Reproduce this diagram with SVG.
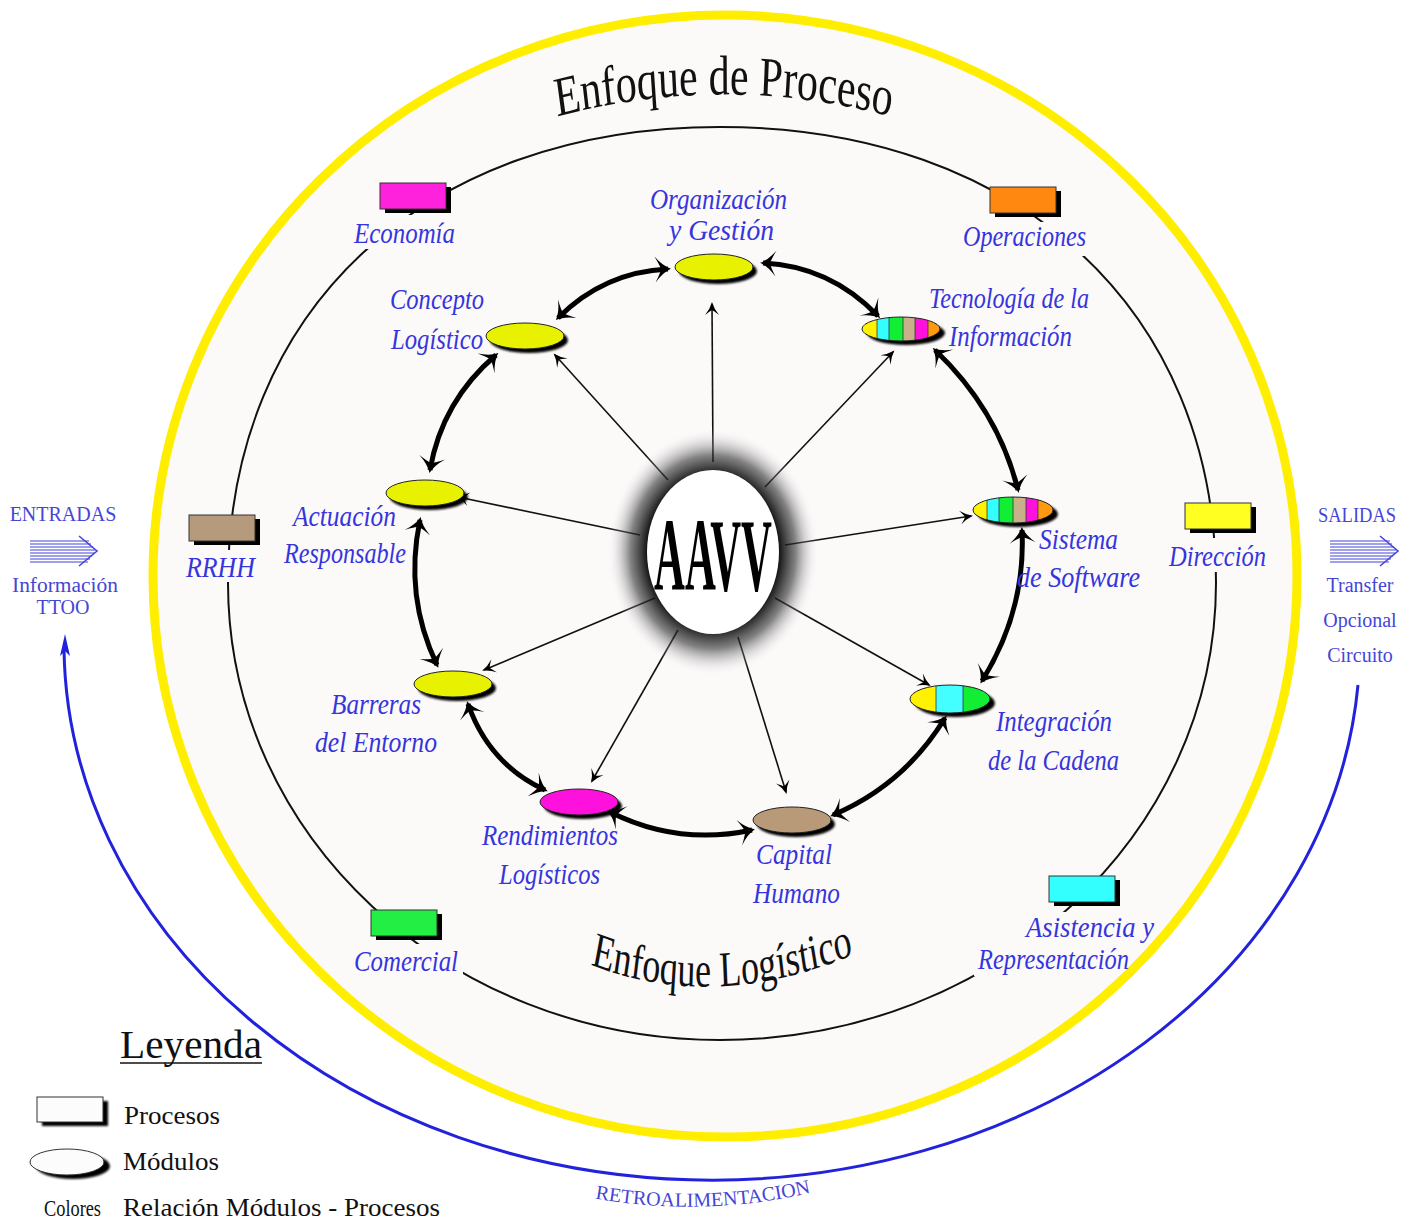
<svg xmlns="http://www.w3.org/2000/svg" width="1413" height="1222" viewBox="0 0 1413 1222">
<defs>
<style>
.lbl{font-family:'Liberation Serif','DejaVu Serif',serif;font-style:italic;font-size:30px;fill:#3535dd}
.blu{font-family:'Liberation Serif','DejaVu Serif',serif;font-size:20px;fill:#4545d8;text-anchor:middle}
.ttl{font-family:'Liberation Serif','DejaVu Serif',serif;fill:#111}
.leg{font-family:'Liberation Serif','DejaVu Serif',serif;fill:#111}
.pbox{stroke:#333;stroke-width:1}
.psh{fill:#000}
.mod{stroke:#222;stroke-width:1}
.msh{fill:#000;filter:url(#blur)}
.lbg{fill:#fcf9f9}
.spoke{fill:none;stroke:#111;stroke-width:1.6;marker-end:url(#thin)}
.ring{fill:none;stroke:#000;stroke-width:5;marker-start:url(#thick);marker-end:url(#thick)}
.sep{stroke:#333;stroke-width:0.8}
</style>
<filter id="blur" x="-20%" y="-40%" width="140%" height="180%"><feGaussianBlur stdDeviation="1.3"/></filter>
<radialGradient id="glow" cx="0.5" cy="0.5" r="0.5">
<stop offset="0.6" stop-color="#000" stop-opacity="1"/>
<stop offset="0.78" stop-color="#333" stop-opacity="0.6"/>
<stop offset="1" stop-color="#fff" stop-opacity="0"/>
</radialGradient>
<marker id="thick" markerUnits="userSpaceOnUse" viewBox="-16 -14 20 28" markerWidth="20" markerHeight="28" refX="0" refY="0" orient="auto-start-reverse">
<path d="M3,0 Q-5,-3 -13,-13 Q-8,-4 -7,0 Q-8,4 -13,13 Q-5,3 3,0Z" fill="#000"/>
</marker>
<marker id="thin" markerUnits="userSpaceOnUse" viewBox="-14 -8 18 16" markerWidth="18" markerHeight="16" refX="0" refY="0" orient="auto">
<path d="M2,0 Q-5,-2 -11,-7 Q-7,-2 -6,0 Q-7,2 -11,7 Q-5,2 2,0Z" fill="#000"/>
</marker>
<clipPath id="clipT"><ellipse cx="901" cy="329" rx="39" ry="12"/></clipPath>
<clipPath id="clipS"><ellipse cx="1013" cy="510" rx="40" ry="13"/></clipPath>
<clipPath id="clipI"><ellipse cx="950" cy="699" rx="40" ry="14"/></clipPath>
<path id="tpTop" d="M-236,119 Q0,70 233,119"/>
<path id="tpBot" d="M-188,962 Q-11,1016 194,952"/>
<path id="tpRet" d="M592,1198 Q703,1218 814,1192"/>
</defs>

<rect width="1413" height="1222" fill="#fff"/>

<g id="frame">
<ellipse cx="725" cy="576" rx="572" ry="561" fill="#fcf9f9" stroke="#ffee00" stroke-width="9"/>
<path d="M1358,685 A648,537 0 0 1 64,648" fill="none" stroke="#2222dd" stroke-width="3"/>
<polygon points="65,634 60,656 65,651 70,656" fill="#2222dd"/>
<path d="M720,127 C1017.6,127 1216,309.4 1216,583 C1216,835.4 994,1040 720,1040 C448,1040 228,835.4 228,583 C228,309.4 424.8,127 720,127 Z" fill="none" stroke="#111" stroke-width="2"/>
</g>

<g id="titles">
<g transform="translate(725,0) scale(0.75,1)"><text class="ttl" font-size="56" text-anchor="middle"><textPath href="#tpTop" startOffset="50%">Enfoque de  Proceso</textPath></text></g>
<g transform="translate(720,0) scale(0.72,1)"><text class="ttl" font-size="50" text-anchor="middle"><textPath href="#tpBot" startOffset="50%">Enfoque  Logístico</textPath></text></g>
<text class="blu" font-size="20"><textPath href="#tpRet" startOffset="50%">RETROALIMENTACION</textPath></text>
</g>

<g id="io">
<g id="entradas">
<text class="blu" x="63" y="521">ENTRADAS</text>
<g stroke="#4545d8" stroke-width="1.2">
<line x1="30" y1="541" x2="89" y2="541"/><line x1="30" y1="544" x2="91" y2="544"/><line x1="30" y1="547" x2="93" y2="547"/><line x1="30" y1="550" x2="95" y2="550"/><line x1="30" y1="553" x2="94" y2="553"/><line x1="30" y1="556" x2="92" y2="556"/><line x1="30" y1="559" x2="90" y2="559"/><line x1="30" y1="562" x2="88" y2="562"/>
<polyline points="79,536 97,551 79,566" fill="none" stroke-width="1.6"/>
</g>
<text class="blu" x="65" y="592" textLength="106" lengthAdjust="spacingAndGlyphs">Información</text>
<text class="blu" x="63" y="614">TTOO</text>
</g>
<g id="salidas">
<text class="blu" x="1357" y="522" textLength="78" lengthAdjust="spacingAndGlyphs">SALIDAS</text>
<g stroke="#4545d8" stroke-width="1.2">
<line x1="1330" y1="541" x2="1390" y2="541"/><line x1="1330" y1="544" x2="1392" y2="544"/><line x1="1330" y1="547" x2="1394" y2="547"/><line x1="1330" y1="550" x2="1396" y2="550"/><line x1="1330" y1="553" x2="1395" y2="553"/><line x1="1330" y1="556" x2="1393" y2="556"/><line x1="1330" y1="559" x2="1391" y2="559"/><line x1="1330" y1="562" x2="1389" y2="562"/>
<polyline points="1380,536 1398,551 1380,566" fill="none" stroke-width="1.6"/>
</g>
<text class="blu" x="1360" y="592">Transfer</text>
<text class="blu" x="1360" y="627">Opcional</text>
<text class="blu" x="1360" y="662">Circuito</text>
</g>
</g>

<g id="connectors">
<path class="spoke" d="M713,462 L712,304"/>
<path class="spoke" d="M765,487 L893,352"/>
<path class="spoke" d="M785,545 L971,516"/>
<path class="spoke" d="M775,598 L929,685"/>
<path class="spoke" d="M738,637 L786,792"/>
<path class="spoke" d="M678,630 L592,781"/>
<path class="spoke" d="M655,598 L484,670"/>
<path class="spoke" d="M640,535 L458,497"/>
<path class="spoke" d="M668,480 L555,355"/>
<path class="ring" d="M558,318 Q604,272 668,269"/>
<path class="ring" d="M763,263 Q830,266 878,316"/>
<path class="ring" d="M935,350 Q998,410 1018,490"/>
<path class="ring" d="M1022,530 Q1026,610 982,681"/>
<path class="ring" d="M945,718 Q904,785 833,815"/>
<path class="ring" d="M752,830 Q678,846 610,812"/>
<path class="ring" d="M545,790 Q489,764 468,704"/>
<path class="ring" d="M437,665 Q404,596 420,520"/>
<path class="ring" d="M430,470 Q442,401 496,355"/>
</g>

<g id="center-aavv">
<ellipse cx="713" cy="552" rx="106" ry="124" fill="url(#glow)"/>
<ellipse cx="713" cy="552" rx="66" ry="82" fill="#fff"/>
<text x="713" y="590" font-family="'Liberation Serif','DejaVu Serif',serif" font-weight="bold" font-size="104" text-anchor="middle" textLength="118" lengthAdjust="spacingAndGlyphs" fill="#000">AAVV</text>
</g>

<g id="modules">
<g id="mod-organizacion">
<ellipse class="msh" cx="718" cy="271" rx="39" ry="13"/>
<ellipse class="mod" cx="714" cy="267" rx="39" ry="13" fill="#e8f200"/>
<text class="lbl" x="650" y="209" textLength="137" lengthAdjust="spacingAndGlyphs">Organización</text>
<text class="lbl" x="669" y="240" textLength="105" lengthAdjust="spacingAndGlyphs">y  Gestión</text>
</g>
<g id="mod-tecnologia">
<ellipse class="msh" cx="906" cy="333" rx="39" ry="12"/>
<g clip-path="url(#clipT)">
<rect x="860" y="315" width="17" height="30" fill="#fff200"/>
<rect x="877" y="315" width="12" height="30" fill="#33ffff"/>
<rect x="889" y="315" width="14" height="30" fill="#11ee33"/>
<rect x="903" y="315" width="12" height="30" fill="#c8b088"/>
<rect x="915" y="315" width="13" height="30" fill="#ff11dd"/>
<rect x="928" y="315" width="15" height="30" fill="#ff9911"/>
<line class="sep" x1="877" y1="315" x2="877" y2="345"/><line class="sep" x1="889" y1="315" x2="889" y2="345"/><line class="sep" x1="903" y1="315" x2="903" y2="345"/><line class="sep" x1="915" y1="315" x2="915" y2="345"/><line class="sep" x1="928" y1="315" x2="928" y2="345"/>
</g>
<ellipse class="mod" cx="901" cy="329" rx="39" ry="12" fill="none"/>
<text class="lbl" x="929" y="308" textLength="160" lengthAdjust="spacingAndGlyphs">Tecnología de la</text>
<text class="lbl" x="949" y="346" textLength="123" lengthAdjust="spacingAndGlyphs">Información</text>
</g>
<g id="mod-sistema">
<ellipse class="msh" cx="1018" cy="514" rx="40" ry="13"/>
<g clip-path="url(#clipS)">
<rect x="970" y="495" width="17" height="30" fill="#fff200"/>
<rect x="987" y="495" width="12" height="30" fill="#33ffff"/>
<rect x="999" y="495" width="14" height="30" fill="#11ee33"/>
<rect x="1013" y="495" width="13" height="30" fill="#c8b088"/>
<rect x="1026" y="495" width="12" height="30" fill="#ff11dd"/>
<rect x="1038" y="495" width="17" height="30" fill="#ff9911"/>
<line class="sep" x1="987" y1="495" x2="987" y2="525"/><line class="sep" x1="999" y1="495" x2="999" y2="525"/><line class="sep" x1="1013" y1="495" x2="1013" y2="525"/><line class="sep" x1="1026" y1="495" x2="1026" y2="525"/><line class="sep" x1="1038" y1="495" x2="1038" y2="525"/>
</g>
<ellipse class="mod" cx="1013" cy="510" rx="40" ry="13" fill="none"/>
<text class="lbl" x="1039" y="549" textLength="79" lengthAdjust="spacingAndGlyphs">Sistema</text>
<text class="lbl" x="1017" y="587" textLength="123" lengthAdjust="spacingAndGlyphs">de  Software</text>
</g>
<g id="mod-integracion">
<ellipse class="msh" cx="955" cy="703" rx="40" ry="14"/>
<g clip-path="url(#clipI)">
<rect x="908" y="683" width="28" height="32" fill="#fff200"/>
<rect x="936" y="683" width="27" height="32" fill="#44ffff"/>
<rect x="963" y="683" width="30" height="32" fill="#11ee33"/>
<line class="sep" x1="936" y1="683" x2="936" y2="715"/><line class="sep" x1="963" y1="683" x2="963" y2="715"/>
</g>
<ellipse class="mod" cx="950" cy="699" rx="40" ry="14" fill="none"/>
<text class="lbl" x="996" y="731" textLength="116" lengthAdjust="spacingAndGlyphs">Integración</text>
<text class="lbl" x="988" y="770" textLength="131" lengthAdjust="spacingAndGlyphs">de la Cadena</text>
</g>
<g id="mod-capital">
<ellipse class="msh" cx="796" cy="824" rx="39" ry="13"/>
<ellipse class="mod" cx="792" cy="820" rx="39" ry="13" fill="#b89a78"/>
<text class="lbl" x="756" y="864" textLength="76" lengthAdjust="spacingAndGlyphs">Capital</text>
<text class="lbl" x="753" y="903" textLength="87" lengthAdjust="spacingAndGlyphs">Humano</text>
</g>
<g id="mod-rendimientos">
<ellipse class="msh" cx="583" cy="806" rx="39" ry="13"/>
<ellipse class="mod" cx="579" cy="802" rx="39" ry="13" fill="#ff11dd"/>
<text class="lbl" x="482" y="845" textLength="136" lengthAdjust="spacingAndGlyphs">Rendimientos</text>
<text class="lbl" x="499" y="884" textLength="101" lengthAdjust="spacingAndGlyphs">Logísticos</text>
</g>
<g id="mod-barreras">
<ellipse class="msh" cx="457" cy="688" rx="39" ry="13"/>
<ellipse class="mod" cx="453" cy="684" rx="39" ry="13" fill="#e8f200"/>
<text class="lbl" x="331" y="714" textLength="90" lengthAdjust="spacingAndGlyphs">Barreras</text>
<text class="lbl" x="315" y="752" textLength="122" lengthAdjust="spacingAndGlyphs">del  Entorno</text>
</g>
<g id="mod-actuacion">
<ellipse class="msh" cx="429" cy="497" rx="39" ry="13"/>
<ellipse class="mod" cx="425" cy="493" rx="39" ry="13" fill="#e8f200"/>
<text class="lbl" x="293" y="526" textLength="103" lengthAdjust="spacingAndGlyphs">Actuación</text>
<text class="lbl" x="284" y="563" textLength="122" lengthAdjust="spacingAndGlyphs">Responsable</text>
</g>
<g id="mod-concepto">
<ellipse class="msh" cx="529" cy="340" rx="39" ry="13"/>
<ellipse class="mod" cx="525" cy="336" rx="39" ry="13" fill="#e8f200"/>
<text class="lbl" x="390" y="309" textLength="94" lengthAdjust="spacingAndGlyphs">Concepto</text>
<text class="lbl" x="391" y="349" textLength="92" lengthAdjust="spacingAndGlyphs">Logístico</text>
</g>
</g>

<g id="processes">
<g id="proc-economia">
<rect class="psh" x="385" y="187" width="66" height="26"/>
<rect class="pbox" x="380" y="183" width="66" height="26" fill="#ff22dd"/>
<rect class="lbg" x="352" y="215" width="106" height="34"/>
<text class="lbl" x="354" y="243" textLength="101" lengthAdjust="spacingAndGlyphs">Economía</text>
</g>
<g id="proc-operaciones">
<rect class="psh" x="995" y="191" width="66" height="26"/>
<rect class="pbox" x="990" y="187" width="66" height="26" fill="#ff8811"/>
<rect class="lbg" x="960" y="222" width="130" height="34"/>
<text class="lbl" x="963" y="246" textLength="123" lengthAdjust="spacingAndGlyphs">Operaciones</text>
</g>
<g id="proc-rrhh">
<rect class="psh" x="194" y="519" width="66" height="26"/>
<rect class="pbox" x="189" y="515" width="66" height="26" fill="#b59a7c"/>
<rect class="lbg" x="184" y="550" width="74" height="32"/>
<text class="lbl" x="186" y="577" textLength="69" lengthAdjust="spacingAndGlyphs">RRHH</text>
</g>
<g id="proc-direccion">
<rect class="psh" x="1190" y="507" width="66" height="26"/>
<rect class="pbox" x="1185" y="503" width="66" height="26" fill="#ffff22"/>
<rect class="lbg" x="1166" y="538" width="103" height="34"/>
<text class="lbl" x="1169" y="566" textLength="97" lengthAdjust="spacingAndGlyphs">Dirección</text>
</g>
<g id="proc-comercial">
<rect class="psh" x="376" y="914" width="66" height="26"/>
<rect class="pbox" x="371" y="910" width="66" height="26" fill="#22ee44"/>
<rect class="lbg" x="351" y="944" width="112" height="34"/>
<text class="lbl" x="354" y="971" textLength="104" lengthAdjust="spacingAndGlyphs">Comercial</text>
</g>
<g id="proc-asistencia">
<rect class="psh" x="1054" y="880" width="66" height="26"/>
<rect class="pbox" x="1049" y="876" width="66" height="26" fill="#33ffff"/>
<rect class="lbg" x="1022" y="912" width="126" height="32"/>
<rect class="lbg" x="974" y="944" width="140" height="32"/>
<text class="lbl" x="1026" y="937" font-size="29" textLength="128" lengthAdjust="spacingAndGlyphs">Asistencia  y</text>
<text class="lbl" x="978" y="969" font-size="29" textLength="151" lengthAdjust="spacingAndGlyphs">Representación</text>
</g>
</g>

<g id="legend">
<text class="leg" x="120" y="1058" font-size="40" textLength="142" lengthAdjust="spacingAndGlyphs">Leyenda</text>
<line x1="120" y1="1063" x2="262" y2="1063" stroke="#111" stroke-width="1.5"/>
<rect x="42" y="1101" width="66" height="25" fill="#000" filter="url(#blur)"/>
<rect x="37" y="1097" width="66" height="25" fill="#fdfcfc" stroke="#333" stroke-width="1"/>
<text class="leg" x="124" y="1124" font-size="26" textLength="96" lengthAdjust="spacingAndGlyphs">Procesos</text>
<ellipse cx="73" cy="1166" rx="37" ry="13" fill="#000" filter="url(#blur)"/>
<ellipse cx="67" cy="1162" rx="37" ry="13" fill="#fdfcfc" stroke="#333" stroke-width="1"/>
<text class="leg" x="123" y="1170" font-size="26" textLength="96" lengthAdjust="spacingAndGlyphs">Módulos</text>
<text class="leg" x="44" y="1216" font-size="24" textLength="57" lengthAdjust="spacingAndGlyphs">Colores</text>
<text class="leg" x="123" y="1216" font-size="26" textLength="317" lengthAdjust="spacingAndGlyphs">Relación Módulos - Procesos</text>
</g>
</svg>
